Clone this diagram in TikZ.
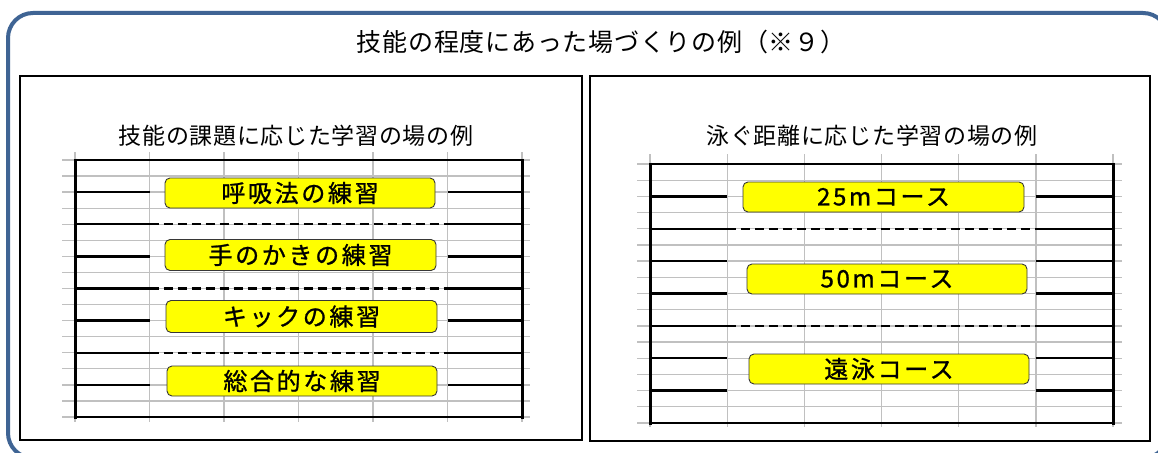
\documentclass[tikz,border=0pt]{standalone}
\usepackage{fontspec}
\newfontfamily\jptitle[LetterSpace=3]{Noto Sans CJK JP}
\newfontfamily\jpsub[LetterSpace=3]{Noto Sans CJK JP}
\newfontfamily\jpbox[LetterSpace=11,FakeBold=1]{Noto Sans CJK JP}
\definecolor{frameblue}{RGB}{63,100,148}
\definecolor{gridgray}{RGB}{192,192,192}
\definecolor{boxborder}{RGB}{55,55,55}
\definecolor{laneyellow}{RGB}{255,255,0}
\tikzset{
  gridline/.style={gridgray, line width=1.3pt},
  wall/.style={black, line width=3pt},
  laneline/.style={black, line width=2.4pt},
  ropeline/.style={black, line width=2.4pt, dash pattern=on 9pt off 5pt},
  panelbox/.style={draw=black, line width=1.6pt, fill=white},
  titletext/.style={inner sep=0pt, font=\jptitle\fontsize{25}{29}\selectfont},
  subtext/.style={inner sep=0pt, font=\jpsub\fontsize{23}{27}\selectfont},
  lanebox/.style={fill=laneyellow, draw=boxborder, line width=0.9pt, rounded corners=5pt,
    inner sep=0pt, minimum height=30pt, font=\jpbox\fontsize{24}{27}\selectfont, text=black},
}
\begin{document}
\begin{tikzpicture}[x=1pt,y=-1pt]
\useasboundingbox (0,0) rectangle (1158,452);
\fill[white] (0,0) rectangle (1158,452);
% outer frame
\begin{scope}
  \clip (0,0) rectangle (1158,452);
  \draw[frameblue, line width=4pt, rounded corners=25pt] (8,13) rectangle (1168,458);
\end{scope}
\node[titletext] (title) at (601,42) {技能の程度にあった場づくりの例（※９）};
% panels
\draw[panelbox] (20,76) rectangle (582,440);
\draw[panelbox] (590,76) rectangle (1150,441);
\node[subtext] (subL) at (296,136) {技能の課題に応じた学習の場の例};
\node[subtext] (subR) at (872,136) {泳ぐ距離に応じた学習の場の例};
% ---------- left pool ----------
\foreach \i in {0,...,16}
  \draw[gridline] (62,{160+\i*16.0625}) -- (530,{160+\i*16.0625});
\foreach \k in {0,...,6}
  \draw[gridline] ({75+\k*74.5},152) -- ({75+\k*74.5},422);
\draw[laneline] (75,160) -- (522,160);
\draw[laneline] (75,417) -- (522,417);
\foreach \r in {2,6,10,14} {
  \draw[laneline] (75,{160+\r*16.0625}) -- (149.5,{160+\r*16.0625});
  \draw[laneline] (447.5,{160+\r*16.0625}) -- (522,{160+\r*16.0625});
}
\foreach \r in {4,8,12} {
  \draw[laneline] (75,{160+\r*16.0625}) -- (149.5,{160+\r*16.0625});
  \draw[ropeline] (149.5,{160+\r*16.0625}) -- (447.5,{160+\r*16.0625});
  \draw[laneline] (447.5,{160+\r*16.0625}) -- (522,{160+\r*16.0625});
}
\draw[wall] (75,158.5) -- (75,418.5);
\draw[wall] (522,158.5) -- (522,418.5);
\node[lanebox, minimum width=270pt] (b1) at (300,193) {呼吸法の練習};
\node[lanebox, minimum width=271pt, minimum height=31pt] (b2) at (300.5,255) {手のかきの練習};
\node[lanebox, minimum width=271pt, minimum height=32pt] (b3) at (301.5,316.5) {キックの練習};
\node[lanebox, minimum width=270pt] (b4) at (302,381) {総合的な練習};
% ---------- right pool ----------
\foreach \i in {0,...,16}
  \draw[gridline] (637,{164+\i*16.1875}) -- (1122,{164+\i*16.1875});
\foreach \k in {0,...,6}
  \draw[gridline] ({650+\k*77.1667},154) -- ({650+\k*77.1667},427);
\draw[laneline] (650,164) -- (1113,164);
\draw[laneline] (650,423) -- (1113,423);
\foreach \r in {2,6,8,12,14} {
  \draw[laneline] (650,{164+\r*16.1875}) -- (727.17,{164+\r*16.1875});
  \draw[laneline] (1035.83,{164+\r*16.1875}) -- (1113,{164+\r*16.1875});
}
\foreach \r in {4,10} {
  \draw[laneline] (650,{164+\r*16.1875}) -- (727.17,{164+\r*16.1875});
  \draw[ropeline] (727.17,{164+\r*16.1875}) -- (1035.83,{164+\r*16.1875});
  \draw[laneline] (1035.83,{164+\r*16.1875}) -- (1113,{164+\r*16.1875});
}
\draw[wall] (650,162.5) -- (650,424.5);
\draw[wall] (1113,162.5) -- (1113,424.5);
\node[lanebox, minimum width=281pt] (c1) at (883.5,197) {25mコース};
\node[lanebox, minimum width=280pt] (c2) at (887,279) {50mコース};
\node[lanebox, minimum width=280pt] (c3) at (889,369) {遠泳コース};
\end{tikzpicture}
\end{document}
